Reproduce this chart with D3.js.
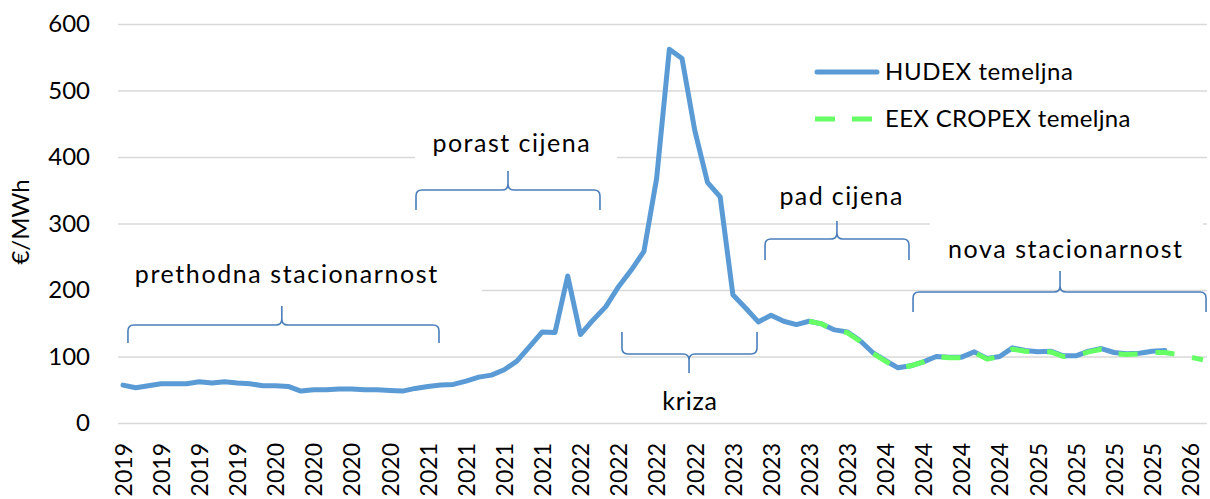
<!DOCTYPE html>
<html>
<head>
<meta charset="utf-8">
<script src="https://cdn.jsdelivr.net/npm/d3@7/dist/d3.min.js"></script>
<style>
  html, body { margin: 0; padding: 0; background: #fff; }
  svg { display: block; font-family: Lato, "Open Sans", sans-serif; }
</style>
</head>
<body>
<svg id="chart" width="1210" height="499"></svg>
<script>
// ---- DATA ----
const categories = [
  "2019-01","2019-02","2019-03","2019-04","2019-05","2019-06","2019-07","2019-08","2019-09","2019-10","2019-11","2019-12",
  "2020-01","2020-02","2020-03","2020-04","2020-05","2020-06","2020-07","2020-08","2020-09","2020-10","2020-11","2020-12",
  "2021-01","2021-02","2021-03","2021-04","2021-05","2021-06","2021-07","2021-08","2021-09","2021-10","2021-11","2021-12",
  "2022-01","2022-02","2022-03","2022-04","2022-05","2022-06","2022-07","2022-08","2022-09","2022-10","2022-11","2022-12",
  "2023-01","2023-02","2023-03","2023-04","2023-05","2023-06","2023-07","2023-08","2023-09","2023-10","2023-11","2023-12",
  "2024-01","2024-02","2024-03","2024-04","2024-05","2024-06","2024-07","2024-08","2024-09","2024-10","2024-11","2024-12",
  "2025-01","2025-02","2025-03","2025-04","2025-05","2025-06","2025-07","2025-08","2025-09","2025-10","2025-11","2025-12",
  "2026-01","2026-02"
];
const hudex = [
  57,53,56,59,59,59,62,60,62,60,59,56,
  56,55,48,50,50,51,51,50,50,49,48,52,
  55,57,58,63,69,72,80,93,115,137,136,221,
  133,155,175,205,230,258,368,562,548,440,362,340,
  193,173,152,162,153,148,153,149,140,137,124,106,
  94,83,86,92,100,99,99,107,97,100,113,109,
  107,108,101,101,108,112,106,104,105,108,109
];
const cropexStart = 54;
const cropex = [
  153,149,139,136,123,105,
  93,82,86,92,100,98,98,106,96,100,111,108,
  106,107,100,101,107,111,104,103,104,106,106,103,
  99,95
];
const yTicks = [0,100,200,300,400,500,600];
const tickLabels = [
  "2019","2019","2019","2019",
  "2020","2020","2020","2020",
  "2021","2021","2021","2021",
  "2022","2022","2022","2022",
  "2023","2023","2023","2023",
  "2024","2024","2024","2024",
  "2025","2025","2025","2025",
  "2026"
];
const seriesNames = ["HUDEX temeljna", "EEX CROPEX temeljna"];
const yTitle = "€/MWh";
const phaseLabels = ["prethodna stacionarnost","porast cijena","kriza","pad cijena","nova stacionarnost"];

// ---- LAYOUT ----
const svg = d3.select("#chart");
const plotL = 118, plotR = 1207, plotT = 24, plotB = 423;
const x = d3.scaleLinear().domain([0, categories.length - 1]).range([123, 1203]);
const y = d3.scaleLinear().domain([0, 600]).range([plotB, plotT]);

const blue = "#5B9BD5", green = "#66FF66", braceCol = "#4A7EBB";
const fontSize = 24;

// gridlines + y labels
const yAx = svg.append("g").attr("transform", `translate(${plotL},0)`)
  .call(d3.axisLeft(y).tickValues(yTicks).tickSize(-(plotR - plotL)).tickPadding(28).tickFormat(d3.format("d")));
yAx.select(".domain").remove();
yAx.selectAll(".tick line").attr("stroke", "#d9d9d9").attr("stroke-width", 1.3);
yAx.selectAll(".tick text").attr("fill", "#000").style("font-size", fontSize + "px").style("font-family", "Lato");

// x labels
const tickIdx = tickLabels.map((_, k) => k * 3);
const xAx = svg.append("g").attr("transform", `translate(0,${plotB})`)
  .call(d3.axisBottom(x).tickValues(tickIdx).tickSize(0).tickFormat((d, k) => tickLabels[k]));
xAx.select(".domain").remove();
xAx.selectAll(".tick text")
  .attr("fill", "#000").style("font-size", "23px").style("font-family", "Lato")
  .attr("x", 0).attr("y", 0).attr("dy", "0.36em")
  .attr("text-anchor", "end")
  .attr("transform", "translate(0,20) rotate(-90)");

// y title
svg.append("text").attr("transform", `translate(29,222) rotate(-90)`)
  .attr("text-anchor", "middle").attr("fill", "#000")
  .style("font-size", fontSize + "px").text(yTitle);

// annotation layout (in category index / value units)
const ann = [
  {t: 0, x1: 0.39, x2: 24.87, tip: 12.5, yl: 147.4, ye: 120.3, yt: 175.9, tx: 12.83, ty: 210.5, ls: 1.6,
   box: [-0.9, 28.25, 252, 185]},
  {t: 1, x1: 23.06, x2: 37.54, tip: 30.3, yl: 350.4, ye: 320.3, yt: 378.9, tx: 30.54, ty: 407.5, ls: 1.5,
   box: [22.98, 38.88, 443, 386.5]},
  {t: 2, x1: 39.27, x2: 49.9, tip: 44.55, yl: 103.8, ye: 136.8, yt: 75.2, tx: 44.6, ty: 19.5, ls: 0.8, box: null},
  {t: 3, x1: 50.53, x2: 61.86, tip: 56.19, yl: 276.7, ye: 245.1, yt: 303.8, tx: 56.5, ty: 327.8, ls: 1.4, box: null},
  {t: 4, x1: 62.18, x2: 85.24, tip: 73.75, yl: 197, ye: 166.9, yt: 228.6, tx: 74.14, ty: 248.1, ls: 1.6,
   box: [63.5, 85.0, 315.8, 233]}
];
const annG = svg.append("g");
ann.forEach(a => {
  if (a.box) {
    annG.append("rect")
      .attr("x", x(a.box[0])).attr("width", x(a.box[1]) - x(a.box[0]))
      .attr("y", y(a.box[2])).attr("height", y(a.box[3]) - y(a.box[2]))
      .attr("fill", "#fff");
  }
});

// lines
const lineGen = d3.line().x(d => x(d[0])).y(d => y(d[1]));
const hudexPts = hudex.map((v, i) => [i, v]);
const cropexPts = cropex.map((v, i) => [i + cropexStart, v]);
svg.append("path").attr("d", lineGen(hudexPts)).attr("fill", "none")
  .attr("stroke", blue).attr("stroke-width", 5).attr("stroke-linejoin", "round").attr("stroke-linecap", "round");
svg.append("path").attr("d", lineGen(cropexPts)).attr("fill", "none")
  .attr("stroke", green).attr("stroke-width", 5).attr("stroke-dasharray", "19,18").attr("stroke-linejoin", "round");

// braces + labels
ann.forEach(a => {
  const X1 = x(a.x1), X2 = x(a.x2), XM = x(a.tip);
  const YL = y(a.yl), YE = y(a.ye), YT = y(a.yt);
  const rx = 6;
  const se = YE > YL ? rx : -rx, st = YT > YL ? rx : -rx;
  const p = d3.path();
  p.moveTo(X1, YE);
  p.lineTo(X1, YL + se);
  p.quadraticCurveTo(X1, YL, X1 + rx, YL);
  p.lineTo(XM - rx, YL);
  p.quadraticCurveTo(XM, YL, XM, YL + st);
  p.lineTo(XM, YT);
  p.moveTo(XM, YL + st);
  p.quadraticCurveTo(XM, YL, XM + rx, YL);
  p.lineTo(X2 - rx, YL);
  p.quadraticCurveTo(X2, YL, X2, YL + se);
  p.lineTo(X2, YE);
  annG.append("path").attr("d", p.toString()).attr("fill", "none")
    .attr("stroke", braceCol).attr("stroke-width", 1.6);
  annG.append("text").attr("x", x(a.tx) + a.ls / 2).attr("y", y(a.ty))
    .attr("text-anchor", "middle").attr("fill", "#000")
    .style("font-size", "25px").style("letter-spacing", a.ls + "px").text(phaseLabels[a.t]);
});

// legend
const lg = svg.append("g");
lg.append("line").attr("x1", 817).attr("x2", 877).attr("y1", 72).attr("y2", 72)
  .attr("stroke", blue).attr("stroke-width", 5).attr("stroke-linecap", "round");
lg.append("text").attr("x", 885).attr("y", 80).attr("fill", "#000").style("font-size", fontSize + "px")
  .style("letter-spacing", "0.6px").text(seriesNames[0]);
lg.append("line").attr("x1", 815).attr("x2", 877).attr("y1", 119).attr("y2", 119)
  .attr("stroke", green).attr("stroke-width", 5).attr("stroke-dasharray", "20,17");
lg.append("text").attr("x", 885).attr("y", 127).attr("fill", "#000").style("font-size", fontSize + "px")
  .style("letter-spacing", "0.3px").text(seriesNames[1]);
</script>
</body>
</html>
